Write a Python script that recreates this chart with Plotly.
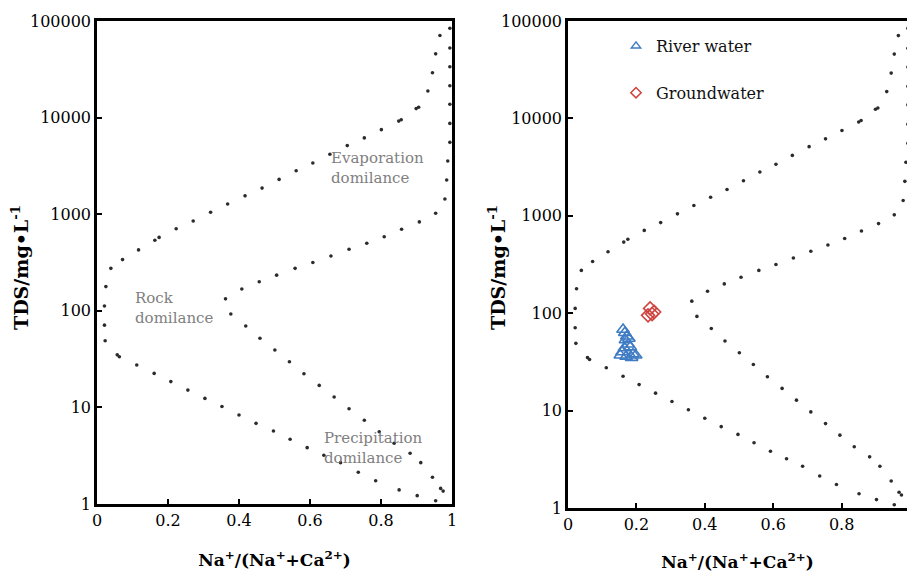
import plotly.graph_objects as go

# ---- Gibbs boundary curves ----
outer_x = [0.954, 0.902, 0.851, 0.785, 0.736, 0.686, 0.639, 0.592, 0.544, 0.497, 0.448, 0.400,
           0.352, 0.304, 0.256, 0.208, 0.161, 0.112, 0.063, 0.057, 0.023, 0.021, 0.021, 0.025,
           0.039, 0.072, 0.117, 0.163, 0.175, 0.223, 0.271, 0.320, 0.368, 0.417, 0.465, 0.513,
           0.561, 0.608, 0.656, 0.705, 0.753, 0.801, 0.850, 0.857, 0.899, 0.906, 0.932, 0.945,
           0.954, 0.966]
outer_y = [1.08, 1.22, 1.40, 1.74, 2.13, 2.68, 3.2, 3.83, 4.68, 5.70, 6.84, 8.34,
           10.2, 12.4, 15.1, 18.5, 22.5, 27.5, 33.5, 35.0, 49, 71, 112, 178,
           275, 339, 427, 537, 575, 708, 851, 1047, 1274, 1549, 1862, 2291,
           2818, 3388, 4169, 5129, 6166, 7499, 9200, 9500, 12400, 12800, 18836, 29174,
           45709, 70795]

inner_x = [0.994, 0.994, 0.994, 0.994, 0.994, 0.994, 0.994, 0.988, 0.985, 0.980, 0.954, 0.908,
           0.858, 0.809, 0.760, 0.710, 0.659, 0.608, 0.558, 0.506, 0.457, 0.408, 0.362, 0.377,
           0.419, 0.459, 0.501, 0.542, 0.583, 0.626, 0.668, 0.710, 0.753, 0.795, 0.837, 0.882,
           0.912, 0.945, 0.968, 0.975]
inner_y = [84140, 52480, 33651, 21380, 13740, 8710, 5546, 3548, 2259, 1435, 1023, 832,
           698, 585, 501, 433, 369, 316, 275, 234, 200, 168, 133, 92.7,
           69.7, 51.9, 39.3, 29.7, 22.3, 16.9, 12.8, 9.7, 7.35, 5.6, 4.25, 3.35,
           2.68, 1.89, 1.45, 1.36]

# ---- samples (right panel) ----
river_x = [0.161, 0.166, 0.172, 0.168, 0.176, 0.182, 0.158, 0.190, 0.170, 0.186, 0.153, 0.198,
           0.165, 0.178]
river_y = [68, 63, 58, 53, 48, 45, 40, 38, 36, 35, 37, 37, 44, 55]
ground_x = [0.240, 0.252, 0.234, 0.246]
ground_y = [112, 103, 95, 98]

x_ticks = [0, 0.2, 0.4, 0.6, 0.8, 1]
x_ticktext = ["0", "0.2", "0.4", "0.6", "0.8", "1"]
y_ticks = [1, 10, 100, 1000, 10000, 100000]
y_ticktext = ["1", "10", "100", "1000", "10000", "100000"]

FONT = "DejaVu Serif"
DOT = dict(size=3.6, color="#2b2b2b")

fig = go.Figure()
for xa, ya in (("x", "y"), ("x2", "y2")):
    fig.add_trace(go.Scatter(x=outer_x, y=outer_y, mode="markers", marker=DOT,
                             xaxis=xa, yaxis=ya, showlegend=False, hoverinfo="skip"))
    fig.add_trace(go.Scatter(x=inner_x, y=inner_y, mode="markers", marker=DOT,
                             xaxis=xa, yaxis=ya, showlegend=False, hoverinfo="skip"))

BLUE = "#3f7cc4"
RED = "#d0433f"
fig.add_trace(go.Scatter(x=river_x, y=river_y, mode="markers", name="River water",
                         marker=dict(symbol="triangle-up-open", size=11, color=BLUE,
                                     line=dict(width=1.6, color=BLUE)),
                         xaxis="x2", yaxis="y2", legendgroup="r", showlegend=False))
fig.add_trace(go.Scatter(x=ground_x, y=ground_y, mode="markers", name="Groundwater",
                         marker=dict(symbol="diamond-open", size=10, color=RED,
                                     line=dict(width=1.6, color=RED)),
                         xaxis="x2", yaxis="y2", legendgroup="g", showlegend=False))
# legend entries with the smaller symbols drawn in the reference legend
fig.add_trace(go.Scatter(x=[None], y=[None], mode="markers", name="River water",
                         marker=dict(symbol="triangle-up-open", size=8, color=BLUE,
                                     line=dict(width=1.5, color=BLUE)),
                         xaxis="x2", yaxis="y2", legendgroup="r"))
fig.add_trace(go.Scatter(x=[None], y=[None], mode="markers", name="Groundwater",
                         marker=dict(symbol="diamond-open", size=8, color=RED,
                                     line=dict(width=1.5, color=RED)),
                         xaxis="x2", yaxis="y2", legendgroup="g"))

W, H = 907, 572
axis_common = dict(showline=True, linecolor="black", linewidth=2.5, ticks="inside",
                   ticklen=5, tickwidth=2, tickcolor="black", showgrid=False, zeroline=False,
                   automargin=False,
                   tickfont=dict(family=FONT, size=16, color="black"))

xtitle_font = dict(family=FONT, size=17, color="black")
ytitle_font = dict(family=FONT, size=19, color="black")
xtitle = "<b>Na<sup>+</sup>/(Na<sup>+</sup>+Ca<sup>2+</sup>)</b>"
ytitle = "<b>TDS/mg•L<sup>-1</sup></b>"

fig.update_layout(
    template="none",
    width=W, height=H, margin=dict(l=0, r=0, t=0, b=0, autoexpand=False),
    paper_bgcolor="white", plot_bgcolor="white",
    font=dict(family=FONT, color="black"),
    xaxis=dict(axis_common, domain=[97 / W, 452 / W], range=[0, 1], mirror=True,
               tickvals=x_ticks, ticktext=x_ticktext, anchor="y",
               title=dict(text=xtitle, font=xtitle_font, standoff=26)),
    yaxis=dict(axis_common, domain=[68 / H, 551 / H], type="log", range=[0, 5], mirror=True,
               tickvals=y_ticks, ticktext=y_ticktext, anchor="x"),
    xaxis2=dict(axis_common, domain=[568 / W, 1.0], range=[0, (W - 568) / 342], mirror=True,
                tickvals=x_ticks, ticktext=x_ticktext, anchor="y2",
                title=dict(text=xtitle, font=xtitle_font, standoff=26)),
    yaxis2=dict(axis_common, domain=[64 / H, 551 / H], type="log", range=[0, 5], mirror=False,
                tickvals=y_ticks, ticktext=y_ticktext, anchor="x2"),
    legend=dict(x=616 / W, y=1 - 29 / H, xanchor="left", yanchor="top",
                font=dict(family=FONT, size=16, color="#111"), bgcolor="rgba(0,0,0,0)",
                tracegroupgap=23, itemsizing="trace", itemwidth=30),
)

# y-axis titles
for px in (20, 497):
    fig.add_annotation(x=px / W, y=1 - 268 / H, xref="paper", yref="paper", text=ytitle,
                       textangle=-90, showarrow=False, xanchor="center", yanchor="middle",
                       font=ytitle_font)

ann_font = dict(family=FONT, size=15, color="#808080")
fig.add_annotation(x=0.653, y=3.48, xref="x", yref="y", text="Evaporation<br>domilance",
                   showarrow=False, xanchor="left", yanchor="middle", align="left", font=ann_font)
fig.add_annotation(x=0.101, y=2.034, xref="x", yref="y", text="Rock<br>domilance",
                   showarrow=False, xanchor="left", yanchor="middle", align="left", font=ann_font)
fig.add_annotation(x=0.634, y=0.58, xref="x", yref="y", text="Precipitation<br>domilance",
                   showarrow=False, xanchor="left", yanchor="middle", align="left", font=ann_font)

fig.write_html("out.html", config={"displayModeBar": False},
               post_script="document.body.style.margin='0';")
